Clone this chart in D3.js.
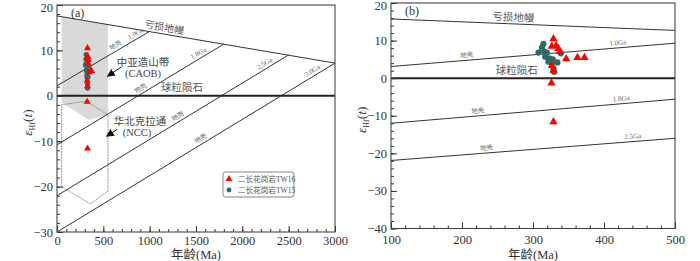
<!DOCTYPE html>
<html>
<head>
<meta charset="utf-8">
<script src="https://cdn.jsdelivr.net/npm/d3@7"></script>
<style>
  body { margin: 0; background: #fff; }
  svg { display: block; font-family: 'Liberation Serif', 'Times New Roman', 'Noto Sans CJK SC', serif; }
</style>
</head>
<body>
<svg id="chart" width="700" height="261"></svg>
<script>
// Hf isotope data (age Ma, eHf(t))
const tw16 = [
    [328.8, 10.6], [326.5, 8.6], [332.6, 8.8], [335.8, 8.0], [338, 7.2],
    [346.7, 5.3], [362.6, 5.6], [372.5, 5.6], [326.5, 3.5], [328.8, 2.2],
    [326, -1.2], [328.8, -11.5]
];
const tw15 = [
    [314.7, 9.1], [312.5, 8.1], [307.7, 6.8], [315.7, 7.1], [319.5, 6.8],
    [317.1, 5.7], [323.2, 5.3], [327.9, 5.0], [321.7, 4.4], [326.5, 4.0],
    [334.4, 4.2], [339.2, 6.6], [328.8, 2.6], [329.8, 1.7]
];

// evolution lines, panel (a)
const dmA = [[0, 17.6], [3000, 7.2]];
const crustA = [
    { name: '1.0Ga', pts: [[0, 2.2], [1000, 14.2]] },
    { name: '1.8Ga', pts: [[0, -10.8], [1800, 11.4]] },
    { name: '2.5Ga', pts: [[0, -22], [2500, 9]] },
    { name: '3.0Ga', pts: [[0, -30], [3000, 7.2]] }
];
const caobField = [[50, 17.43], [550, 15.71], [550, -4.3], [340, -5.3], [50, -1.5]];
const nccField = [[50, -2], [315, -1.2], [550, -4.2], [550, -21], [360, -23.8], [50, -20]];

// evolution lines, panel (b)
const dmB = [[100, 15.75], [500, 12.7]];
const crustB = [
    { name: '1.0Ga', pts: [[100, 3.1], [500, 9.3]] },
    { name: '1.8Ga', pts: [[100, -12], [500, -5.6]] },
    { name: '2.5Ga', pts: [[100, -21.9], [500, -16]] }
];

const xTicksA = [0, 500, 1000, 1500, 2000, 2500, 3000];
const yTicksA = [20, 10, 0, -10, -20, -30];
const xTicksB = [100, 200, 300, 400, 500];
const yTicksB = [20, 10, 0, -10, -20, -30, -40];

const legendItems = ['二长花岗岩TW16', '二长花岗岩TW15'];

const svg = d3.select('#chart');
const lineCol = '#333';
const txtCol = '#333';

svg.append('defs').append('marker')
    .attr('id', 'arrow')
    .attr('viewBox', '0 0 10 10')
    .attr('refX', 9).attr('refY', 5)
    .attr('markerWidth', 8).attr('markerHeight', 8)
    .attr('markerUnits', 'userSpaceOnUse')
    .attr('orient', 'auto')
    .append('path')
    .attr('d', 'M0,0 L10,5 L0,10 Z')
    .attr('fill', '#111');

function makePanel(opt) {
    const x = d3.scaleLinear().domain(opt.xDomain).range([opt.left, opt.right]);
    const y = d3.scaleLinear().domain(opt.yDomain).range([opt.bottom, opt.top]);
    const g = svg.append('g');
    const clipId = 'clip-' + opt.id;
    g.append('clipPath').attr('id', clipId).append('rect')
        .attr('x', opt.left).attr('y', opt.top)
        .attr('width', opt.right - opt.left).attr('height', opt.bottom - opt.top);
    const plot = g.append('g').attr('clip-path', `url(#${clipId})`);
    return { x, y, g, plot };
}

function drawAxes(p, opt) {
    const { x, y, g } = p;
    // minor ticks
    g.append('g')
        .attr('transform', `translate(0,${opt.bottom})`)
        .call(d3.axisBottom(x).tickValues(d3.range(opt.xDomain[0], opt.xDomain[1] + 0.01, opt.xMinor)).tickSize(-3).tickFormat(''))
        .call(s => s.select('.domain').remove())
        .selectAll('line').attr('stroke', lineCol);
    g.append('g')
        .attr('transform', `translate(${opt.left},0)`)
        .call(d3.axisLeft(y).tickValues(d3.range(opt.yDomain[0], opt.yDomain[1] + 0.01, opt.yMinor)).tickSize(-3).tickFormat(''))
        .call(s => s.select('.domain').remove())
        .selectAll('line').attr('stroke', lineCol);
    // major ticks
    const xa = g.append('g')
        .attr('transform', `translate(0,${opt.bottom})`)
        .call(d3.axisBottom(x).tickValues(opt.xTicks).tickSize(-6).tickPadding(opt.xPad).tickFormat(d3.format('d')));
    xa.select('.domain').remove();
    xa.selectAll('line').attr('stroke', lineCol);
    xa.selectAll('text').attr('font-size', 12.5).attr('fill', txtCol)
        .attr('font-family', "'Liberation Serif', serif");
    const ya = g.append('g')
        .attr('transform', `translate(${opt.left},0)`)
        .call(d3.axisLeft(y).tickValues(opt.yTicks).tickSize(-6).tickPadding(4).tickFormat(d3.format('d')));
    ya.select('.domain').remove();
    ya.selectAll('line').attr('stroke', lineCol);
    ya.selectAll('text').attr('font-size', 12.5).attr('fill', txtCol)
        .attr('font-family', "'Liberation Serif', serif")
        .attr('dy', d => d === opt.yDomain[1] ? '0.55em' : '0.32em');

    g.append('rect')
        .attr('x', opt.left).attr('y', opt.top)
        .attr('width', opt.right - opt.left).attr('height', opt.bottom - opt.top)
        .attr('fill', 'none').attr('stroke', '#444').attr('stroke-width', 1.1);

    // axis titles
    g.append('text')
        .attr('x', (opt.left + opt.right) / 2).attr('y', 259)
        .attr('text-anchor', 'middle').attr('font-size', 12.5).attr('fill', txtCol)
        .text('年龄(Ma)');
    const yl = g.append('text')
        .attr('transform', `translate(${opt.left - 25},${(opt.top + opt.bottom) / 2 + 4}) rotate(-90)`)
        .attr('text-anchor', 'middle').attr('font-size', 13.5).attr('fill', txtCol);
    yl.append('tspan').attr('font-style', 'italic').text('ε');
    yl.append('tspan').attr('font-size', 8).attr('dy', 3).text('Hf');
    yl.append('tspan').attr('dy', -3).text('(');
    yl.append('tspan').attr('font-style', 'italic').text('t');
    yl.append('tspan').text(')');

    g.append('text')
        .attr('x', opt.left + 14).attr('y', opt.top + 12)
        .attr('font-size', 12).attr('fill', txtCol)
        .text(opt.tag);
}

const line = (p) => d3.line().x(d => p.x(d[0])).y(d => p.y(d[1]));

// label along a line at data x, offset above it
function lineLabel(p, pts, xv, text, size, col, off) {
    const [a, b] = pts;
    const t = (xv - a[0]) / (b[0] - a[0]);
    const yv = a[1] + t * (b[1] - a[1]);
    const ang = Math.atan2(p.y(b[1]) - p.y(a[1]), p.x(b[0]) - p.x(a[0])) * 180 / Math.PI;
    p.g.append('text')
        .attr('transform', `translate(${p.x(xv)},${p.y(yv)}) rotate(${ang})`)
        .attr('y', -off)
        .attr('text-anchor', 'middle')
        .attr('font-size', size).attr('fill', col)
        .text(text);
}

function drawPoints(p, r, tri) {
    const sym = d3.symbol().type(d3.symbolTriangle).size(tri);
    p.plot.selectAll('.c')
        .data(tw15).enter().append('circle')
        .attr('cx', d => p.x(d[0])).attr('cy', d => p.y(d[1]))
        .attr('r', r).attr('fill', '#2e6a64');
    p.plot.selectAll('.t')
        .data(tw16).enter().append('path')
        .attr('d', sym)
        .attr('transform', d => `translate(${p.x(d[0])},${p.y(d[1]) + 0.5})`)
        .attr('fill', '#ff0000');
}

// ---------- panel (a)
const optA = {
    id: 'a', left: 57, right: 335, top: 5, bottom: 232,
    xDomain: [0, 3000], yDomain: [-30, 20],
    xTicks: xTicksA, yTicks: yTicksA, xMinor: 100, yMinor: 2, tag: '(a)', xPad: 4
};
const pa = makePanel(optA);

pa.plot.append('path')
    .datum(caobField)
    .attr('d', d3.line().x(d => pa.x(d[0])).y(d => pa.y(d[1])).curve(d3.curveLinearClosed))
    .attr('fill', '#d9d9d9');
pa.plot.append('path')
    .datum(nccField)
    .attr('d', d3.line().x(d => pa.x(d[0])).y(d => pa.y(d[1])).curve(d3.curveLinearClosed))
    .attr('fill', 'none').attr('stroke', '#8a8a8a').attr('stroke-width', 0.9)
    .attr('stroke-dasharray', '2,0.8');

pa.plot.append('path').datum(dmA).attr('d', line(pa))
    .attr('fill', 'none').attr('stroke', lineCol).attr('stroke-width', 1);
crustA.forEach(c => {
    pa.plot.append('path').datum(c.pts).attr('d', line(pa))
        .attr('fill', 'none').attr('stroke', lineCol).attr('stroke-width', 1);
});
pa.plot.append('line')
    .attr('x1', pa.x(0)).attr('x2', pa.x(3000))
    .attr('y1', pa.y(0)).attr('y2', pa.y(0))
    .attr('stroke', '#2a1e1e').attr('stroke-width', 2);

const labA = [[660, 877], [930, 1555], [1330, 2268], [1580, 2785]];
crustA.forEach((c, i) => {
    lineLabel(pa, c.pts, labA[i][0], '地壳', 6.5, '#666', 3);
    lineLabel(pa, c.pts, labA[i][1], c.name, 7, '#666', 3);
});
lineLabel(pa, dmA, 1145, '亏损地幔', 10, '#555', 3);
pa.g.append('text').attr('x', pa.x(1350)).attr('y', pa.y(0) - 5)
    .attr('text-anchor', 'middle').attr('font-size', 10.5).attr('fill', '#555').text('球粒陨石');

pa.g.append('text').attr('x', 143).attr('y', 66).attr('text-anchor', 'middle')
    .attr('font-size', 10.5).attr('fill', '#444').text('中亚造山带');
pa.g.append('text').attr('x', 143).attr('y', 77).attr('text-anchor', 'middle')
    .attr('font-size', 10.5).attr('fill', '#444').text('(CAOB)');
pa.g.append('text').attr('x', 140).attr('y', 125).attr('text-anchor', 'middle')
    .attr('font-size', 10.5).attr('fill', '#444').text('华北克拉通');
pa.g.append('text').attr('x', 137).attr('y', 136).attr('text-anchor', 'middle')
    .attr('font-size', 10.5).attr('fill', '#444').text('(NCC)');

const arrowsA = [[[690, 6.3], [545, 4.3]], [[650, -7.4], [535, -8.9]]];
arrowsA.forEach(a => {
    pa.g.append('line')
        .attr('x1', pa.x(a[0][0])).attr('y1', pa.y(a[0][1]))
        .attr('x2', pa.x(a[1][0])).attr('y2', pa.y(a[1][1]))
        .attr('stroke', '#111').attr('stroke-width', 1)
        .attr('marker-end', 'url(#arrow)');
});

drawPoints(pa, 2.6, 22);
drawAxes(pa, optA);

// legend
const lg = pa.g.append('g').attr('transform', 'translate(223,172)');
lg.append('rect').attr('width', 71).attr('height', 25).attr('rx', 2.5)
    .attr('fill', '#fff').attr('stroke', '#666').attr('stroke-width', 0.8);
lg.append('path').attr('d', d3.symbol().type(d3.symbolTriangle).size(20))
    .attr('transform', 'translate(6,7)').attr('fill', '#ff0000');
lg.append('circle').attr('cx', 6).attr('cy', 18).attr('r', 2.4).attr('fill', '#2e6a64');
legendItems.forEach((t, i) => {
    lg.append('text').attr('x', 15).attr('y', 9.5 + i * 11)
        .attr('font-size', 7.6).attr('fill', '#555').text(t);
});

// ---------- panel (b)
const optB = {
    id: 'b', left: 391, right: 675, top: 3, bottom: 228.5,
    xDomain: [100, 500], yDomain: [-40, 20],
    xTicks: xTicksB, yTicks: yTicksB, xMinor: 20, yMinor: 2, tag: '(b)', xPad: 7
};
const pb = makePanel(optB);
pb.plot.append('path').datum(dmB).attr('d', line(pb))
    .attr('fill', 'none').attr('stroke', lineCol).attr('stroke-width', 1);
crustB.forEach(c => {
    pb.plot.append('path').datum(c.pts).attr('d', line(pb))
        .attr('fill', 'none').attr('stroke', lineCol).attr('stroke-width', 1);
});
pb.plot.append('line')
    .attr('x1', pb.x(100)).attr('x2', pb.x(500))
    .attr('y1', pb.y(0)).attr('y2', pb.y(0))
    .attr('stroke', '#2a1e1e').attr('stroke-width', 2);

const labB = [[207, 420], [223, 425], [235, 441]];
crustB.forEach((c, i) => {
    lineLabel(pb, c.pts, labB[i][0], '地壳', 6.5, '#666', 3);
    lineLabel(pb, c.pts, labB[i][1], c.name, 7, '#666', 3);
});
lineLabel(pb, dmB, 272, '亏损地幔', 10.5, '#555', 3);
pb.g.append('text').attr('x', pb.x(277)).attr('y', pb.y(0) - 4)
    .attr('text-anchor', 'middle').attr('font-size', 10.5).attr('fill', '#555').text('球粒陨石');

drawPoints(pb, 3.1, 30);
drawAxes(pb, optB);
</script>
</body>
</html>
